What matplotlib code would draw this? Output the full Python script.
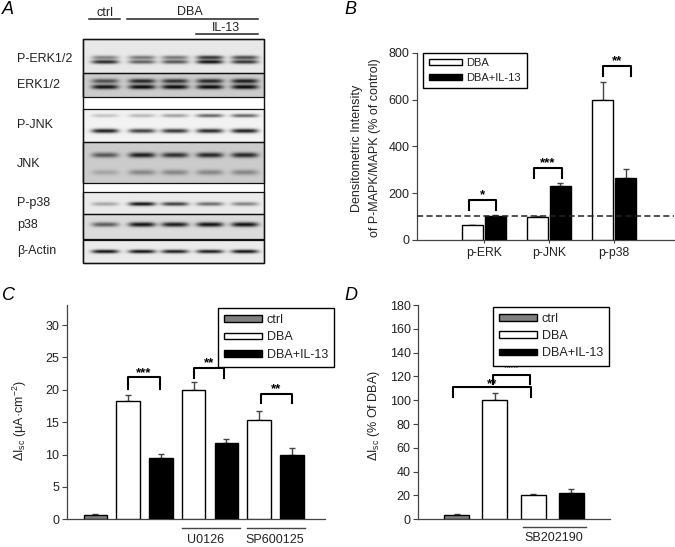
import matplotlib
matplotlib.use("Agg")
import matplotlib.pyplot as plt
import numpy as np
from matplotlib.patches import Patch, Rectangle

plt.rcParams['font.family'] = ['Liberation Sans', 'DejaVu Sans']
plt.rcParams['mathtext.fontset'] = 'custom'
plt.rcParams['mathtext.rm'] = 'Liberation Sans'
plt.rcParams['mathtext.it'] = 'Liberation Sans:italic'
plt.rcParams['mathtext.default'] = 'regular'

W, H = 675, 547
TXT = '#222222'
AXC = '#444444'

# panel B
b_labels = ["p-ERK", "p-JNK", "p-p38"]
b_dba = [63, 98, 600]
b_dba_err = [2, 5, 75]
b_il13 = [102, 230, 263]
b_il13_err = [5, 15, 42]
b_ref = 104
b_ticks = [0, 200, 400, 600, 800]

# panel C
c_vals = [0.6, 18.2, 9.5, 19.9, 11.8, 15.3, 10.0]
c_errs = [0.2, 1.0, 0.6, 1.3, 0.6, 1.5, 1.0]
c_ticks = [0, 5, 10, 15, 20, 25, 30]

# panel D
d_vals = [3.5, 100, 20.5, 22]
d_errs = [1, 6, 1, 3.5]
d_ticks = list(range(0, 181, 20))

# panel A: band darkness per lane (ctrl, DBA, DBA, IL-13, IL-13)
perk_upper = [0.45, 0.5, 0.5, 0.8, 0.7]
perk_lower = [0.85, 0.6, 0.65, 0.95, 0.8]
erk_upper = [0.65, 0.85, 0.8, 0.85, 0.9]
erk_lower = [0.95, 1.0, 1.0, 1.0, 1.0]
pjnk_upper = [0.2, 0.25, 0.35, 0.6, 0.6]
pjnk_lower = [0.9, 0.75, 0.8, 0.85, 0.9]
jnk_upper = [0.6, 0.9, 0.8, 0.85, 0.85]
jnk_lower = [0.2, 0.35, 0.35, 0.35, 0.35]
pp38_band = [0.3, 0.95, 0.75, 0.55, 0.45]
p38_band = [0.6, 0.95, 0.9, 0.95, 0.95]
actin_band = [0.95, 0.95, 0.9, 0.9, 0.95]
lane_x = [105, 142, 175, 210, 245]
blot_names = ["P-ERK1/2", "ERK1/2", "P-JNK", "JNK", "P-p38", "p38", "β-Actin"]


def axes_px(fig, left, top, right, bottom):
    return fig.add_axes([left / W, 1 - bottom / H, (right - left) / W, (bottom - top) / H])


def draw_strip(ax, top, bottom, bg, bands):
    xs = np.linspace(82, 264, 364)
    ys = np.linspace(top, bottom, int((bottom - top) * 2) + 1)
    gx, gy = np.meshgrid(xs, ys)
    img = np.full(gx.shape, bg, dtype=float)
    for y0, sigma, dark in bands:
        for cx, d in zip(lane_x, dark):
            across = np.exp(-((gx - cx) / 13.5) ** 4)
            along = np.exp(-((gy - y0) / sigma) ** 2)
            img -= (bg - 0.03) * d * across * along
    ax.imshow(img, extent=(82, 264, bottom, top), cmap='gray', vmin=0, vmax=1,
              aspect='auto', interpolation='bilinear', zorder=1)
    ax.add_patch(Rectangle((82.5, top), 181, bottom - top, fill=False, ec='#111111', lw=0.9, zorder=2))


def bracket(ax, x0, x1, top, leg, star_y, stars, lw=1.5):
    ax.plot([x0, x0, x1, x1], [leg, top, top, leg], color='black', lw=lw,
            solid_joinstyle='round', clip_on=False, zorder=5)
    ax.text((x0 + x1) / 2, star_y, stars, ha='center', va='center', fontsize=9.5,
            fontweight='bold', color='black', zorder=5)


def style(ax, ticks):
    for side in ['top', 'right']:
        ax.spines[side].set_visible(False)
    for side in ['left', 'bottom']:
        ax.spines[side].set_color(AXC)
        ax.spines[side].set_linewidth(0.9)
    ax.set_yticks(ticks)
    ax.tick_params(axis='y', labelsize=9, length=3.5, width=0.8, color=AXC, labelcolor=TXT, pad=2)
    ax.patch.set_alpha(0)


def bars(ax, x, vals, errs, width, colors):
    ax.bar(x, vals, width=width, color=colors, edgecolor='black', linewidth=1, zorder=3)
    ax.errorbar(x, vals, yerr=[[0] * len(vals), errs], fmt='none', ecolor=AXC, elinewidth=1,
                capsize=2.2, capthick=1, zorder=2)


def legend(ax, fig, labels, colors, left, top, fs=8.3):
    handles = [Patch(facecolor=c, edgecolor='black', lw=1) for c in colors]
    leg = ax.legend(handles, labels, loc='upper left', bbox_to_anchor=(left / W, 1 - top / H),
                    bbox_transform=fig.transFigure, fontsize=fs, frameon=True, fancybox=False,
                    edgecolor='black', framealpha=1, borderpad=0.5, labelspacing=0.42,
                    handlelength=3.0, handleheight=0.45, handletextpad=0.4, borderaxespad=0)
    leg.get_frame().set_linewidth(1)
    for t in leg.get_texts():
        t.set_color(TXT)
    leg.set_zorder(6)


fig = plt.figure(figsize=(W / 100, H / 100), dpi=100)

# overlay in pixel coordinates for the blot and all free text
over = fig.add_axes([0, 0, 1, 1])
over.set_xlim(0, W)
over.set_ylim(H, 0)
over.axis('off')

draw_strip(over, 39, 73, 0.91, [(57.5, 2.0, perk_upper), (62, 2.0, perk_lower)])
draw_strip(over, 73, 97, 0.80, [(81, 2.3, erk_upper), (87, 2.3, erk_lower)])
draw_strip(over, 109, 142, 0.95, [(115.5, 1.8, pjnk_upper), (131, 2.2, pjnk_lower)])
draw_strip(over, 142, 183, 0.80, [(155, 2.6, jnk_upper), (172.5, 2.8, jnk_lower)])
draw_strip(over, 192, 214, 0.92, [(204, 2.0, pp38_band)])
draw_strip(over, 214, 239, 0.86, [(224.5, 2.4, p38_band)])
draw_strip(over, 240, 263, 0.92, [(251.5, 1.9, actin_band)])
over.add_patch(Rectangle((82.5, 39), 181, 224, fill=False, ec='#111111', lw=1, zorder=2))
over.set_xlim(0, W)
over.set_ylim(H, 0)

for name, y in zip(blot_names, [59, 85, 125, 164, 203, 225, 251]):
    over.text(17, y, name, fontsize=9, color=TXT, va='center')
over.plot([89, 120], [19, 19], color='#222222', lw=1.1)
over.plot([127, 258], [19, 19], color='#222222', lw=1.1)
over.plot([196, 258], [34, 34], color='#222222', lw=1.1)
over.text(105, 13, "ctrl", fontsize=9, color=TXT, ha='center', va='center')
over.text(190, 12, "DBA", fontsize=9, color=TXT, ha='center', va='center')
over.text(226, 28, "IL-13", fontsize=9, color=TXT, ha='center', va='center')

for letter, x, y in [("A", 2, 10), ("B", 344, 10), ("C", 2, 296), ("D", 344, 296)]:
    over.text(x, y, letter, fontsize=13, style='italic', color='black', va='center')

# B
ax_b = axes_px(fig, 417.3, 52.7, 674, 240)
ax_b.set_xlim(0, 256.7)
ax_b.set_ylim(0, 800)
style(ax_b, b_ticks)
xb = np.arange(3) * 65.2
bars(ax_b, xb + 55, b_dba, b_dba_err, 20.8, 'white')
bars(ax_b, xb + 77.9, b_il13, b_il13_err, 20.8, 'black')
ax_b.axhline(b_ref, color='#222222', lw=1.1, ls=(0, (4, 2.2)), zorder=4)
ax_b.set_xticks(xb + 66.4)
ax_b.set_xticklabels(b_labels)
ax_b.tick_params(axis='x', labelsize=8.8, length=2, width=0.8, color=AXC, labelcolor=TXT, pad=3)
bracket(ax_b, 52, 79, 171, 128, 190, "*")
bracket(ax_b, 117, 144.5, 306, 263, 330, "***")
bracket(ax_b, 186, 213.5, 744, 702, 765, "**")
legend(ax_b, fig, ["DBA", "DBA+IL-13"], ['white', 'black'], 423, 52.5, fs=8)
over.text(357, 148, "Densitometric Intensity", rotation=90, fontsize=9, color=TXT, ha='center', va='center')
over.text(375, 148, "of P-MAPK/MAPK (% of control)", rotation=90, fontsize=9, color=TXT, ha='center', va='center')

# C
ax_c = axes_px(fig, 66.7, 305, 325, 519.3)
ax_c.set_xlim(0, 258.3)
ax_c.set_ylim(0, 33.1)
style(ax_c, c_ticks)
ax_c.set_xticks([])
xc = 28.6 + np.arange(7) * 32.75
bars(ax_c, xc, c_vals, c_errs, 23.5, ['#808080', 'white', 'black', 'white', 'black', 'white', 'black'])
bracket(ax_c, xc[1] + 0.3, xc[2] - 1.3, 22.0, 20.2, 22.6, "***")
bracket(ax_c, xc[3] + 0.7, xc[4] - 2.7, 23.3, 21.8, 24.1, "**")
bracket(ax_c, xc[5] + 1.7, xc[6] - 0.2, 19.3, 17.9, 20.1, "**")
legend(ax_c, fig, ["ctrl", "DBA", "DBA+IL-13"], ['#808080', 'white', 'black'], 218, 308, fs=9)
over.plot([181.5, 239.5], [528.3, 528.3], color=AXC, lw=1)
over.plot([246.5, 305], [528.3, 528.3], color=AXC, lw=1)
over.text(206, 540, "U0126", fontsize=9, color=TXT, ha='center', va='center')
over.text(275, 540, "SP600125", fontsize=9, color=TXT, ha='center', va='center')
over.text(20, 421, r"ΔI$_{sc}$ (μA·cm$^{-2}$)", rotation=90, fontsize=9, color=TXT, ha='center', va='center')

# D
ax_d = axes_px(fig, 418.3, 305, 609.5, 519.3)
ax_d.set_xlim(0, 191.2)
ax_d.set_ylim(0, 180)
style(ax_d, d_ticks)
ax_d.set_xticks([])
xd = 38.4 + np.arange(4) * 38.2
bars(ax_d, xd, d_vals, d_errs, 25, ['#808080', 'white', 'white', 'black'])
bracket(ax_d, xd[0] - 3.3, xd[2] - 2, 110.8, 102.5, 113.5, "**")
bracket(ax_d, xd[1] - 1.5, xd[2] - 3.5, 121.5, 113.5, 127, "***")
legend(ax_d, fig, ["ctrl", "DBA", "DBA+IL-13"], ['#808080', 'white', 'black'], 493, 306.7, fs=9)
over.plot([522.5, 585.5], [526.7, 526.7], color=AXC, lw=1)
over.text(554, 538, "SB202190", fontsize=9, color=TXT, ha='center', va='center')
over.text(374, 415, r"ΔI$_{sc}$ (% Of DBA)", rotation=90, fontsize=9, color=TXT, ha='center', va='center')

fig.savefig("out.png", dpi=100)
